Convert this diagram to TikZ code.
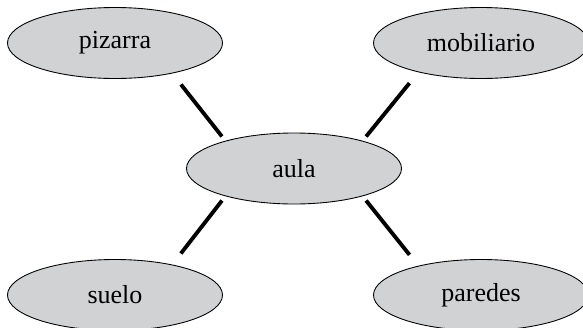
\documentclass[tikz,border=0pt]{standalone}
\usepackage{fontspec}
\setmainfont{Liberation Serif}
\usepackage{tikz}
\usetikzlibrary{shapes.geometric,positioning}
\definecolor{ovalgray}{RGB}{209,210,212}

\begin{document}
\begin{tikzpicture}[on grid,font=\fontsize{14.8}{17}\selectfont,
    topic/.style={ellipse,draw,line width=0.5pt,fill=ovalgray,minimum width=4.3cm,minimum height=1.42cm,inner sep=0pt},
    spoke/.style={line width=2.2pt,shorten <=0.28cm,shorten >=0.11cm}]
            \useasboundingbox (0,0) rectangle (11.66,6.54);
            \clip (0,0) rectangle (11.66,6.54);

            \node   [topic]   at (5.88,3.17)                             (aula)       {aula};
            \node   [topic]   [above left=2.51cm and 3.58cm of aula]     (pizarra)    {pizarra};
            \node   [topic]   [above right=2.51cm and 3.74cm of aula]    (mobiliario) {mobiliario};
            \node   [topic]   [below left=2.53cm and 3.58cm of aula]     (suelo)      {suelo};
            \node   [topic]   [below right=2.53cm and 3.74cm of aula]    (paredes)    {paredes};

            \path   (pizarra.-28)    edge [spoke] (aula.158);
            \path   (mobiliario.205) edge [spoke] (aula.22);
            \path   (suelo.28)       edge [spoke] (aula.202);
            \path   (paredes.155)    edge [spoke] (aula.-22);
\end{tikzpicture}
\end{document}
